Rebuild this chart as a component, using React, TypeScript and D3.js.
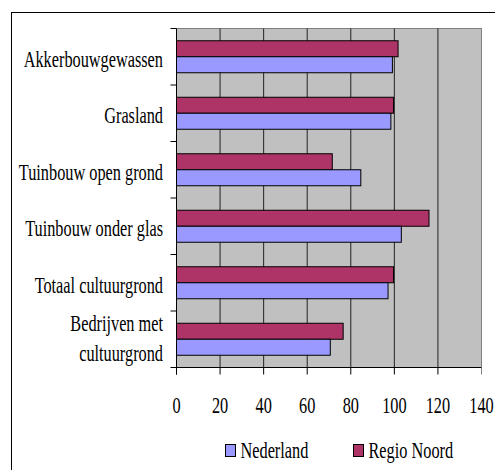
import React from "react";
import * as d3 from "d3";

const categories = [
  "Akkerbouwgewassen",
  "Grasland",
  "Tuinbouw open grond",
  "Tuinbouw onder glas",
  "Totaal cultuurgrond",
  "Bedrijven met cultuurgrond",
];
const categoryLines = [
  ["Akkerbouwgewassen"],
  ["Grasland"],
  ["Tuinbouw open grond"],
  ["Tuinbouw onder glas"],
  ["Totaal cultuurgrond"],
  ["Bedrijven met", "cultuurgrond"],
];
const seriesNames = ["Regio Noord", "Nederland"];
const regioNoord = [101.7, 99.6, 71.5, 115.9, 99.6, 76.5];
const nederland = [99.1, 98.4, 84.6, 103.2, 97.1, 70.6];
const xTicks = [0, 20, 40, 60, 80, 100, 120, 140];
const legendNames = ["Nederland", "Regio Noord"];

const colors: Record<string, string> = {
  "Regio Noord": "#AE3366",
  Nederland: "#9999FF",
};

const font = '"Liberation Serif", "Times New Roman", Times, "DejaVu Serif", serif';
const ts: React.CSSProperties = { fontFamily: font, fontSize: "16.3px" };
const SY = 1.42;

function T({ x, y, anchor, children }: { x: number; y: number; anchor?: string; children: React.ReactNode }) {
  return (
    <text transform={`translate(${x},${y}) scale(1,${SY})`} textAnchor={anchor || "start"} style={ts} fill="#000">
      {children}
    </text>
  );
}

export default function App() {
  const W = 495;
  const H = 470;
  const left = 176.5;
  const right = 481.5;
  const top = 28.5;
  const bottom = 367.5;
  const x = d3.scaleLinear().domain([0, 140]).range([left, right]);
  const y = d3.scaleBand<string>().domain(categories).range([top, bottom]).paddingInner(0).paddingOuter(0);
  const barH = 16;
  const series = [regioNoord, nederland];

  return (
    <svg width={W} height={H} style={{ position: "absolute", left: 0, top: 0 }}>
      <rect x={0} y={0} width={W} height={H} fill="#fff" />
      <rect x={11.5} y={12.5} width={W + 10} height={H + 10} fill="none" stroke="#000" strokeWidth={1} />
      <rect x={left} y={top} width={right - left} height={bottom - top} fill="#C0C0C0" stroke="#808080" strokeWidth={1} />
      {xTicks.slice(1).map((t) => (
        <line key={"g" + t} x1={x(t)} x2={x(t)} y1={top} y2={bottom} stroke={t === 140 ? "#808080" : "#222"} strokeWidth={1} />
      ))}
      {categories.map((c, i) => {
        const band = y(c)!;
        const bw = y.bandwidth();
        const y0 = band + (bw - barH * 2) / 2;
        return (
          <g key={c}>
            {series.map((s, j) => (
              <rect
                key={j}
                x={x(0)}
                y={y0 + j * barH}
                width={x(s[i]) - x(0)}
                height={barH}
                fill={colors[seriesNames[j]]}
                stroke="#000"
                strokeWidth={1}
              />
            ))}
          </g>
        );
      })}
      <line x1={left} x2={left} y1={top} y2={bottom + 7} stroke="#000" />
      <line x1={left - 6} x2={right} y1={bottom} y2={bottom} stroke="#000" />
      {categories.map((c) => (
        <line key={"t" + c} x1={left - 6} x2={left} y1={y(c)!} y2={y(c)!} stroke="#000" />
      ))}
      {xTicks.map((t) => (
        <line key={"xt" + t} x1={x(t)} x2={x(t)} y1={bottom} y2={bottom + 7} stroke={t === 140 ? "#808080" : "#000"} />
      ))}
      {xTicks.map((t) => (
        <T key={"xl" + t} x={x(t)} y={413.3} anchor="middle">
          {t}
        </T>
      ))}
      {categories.map((c, i) => {
        const lines = categoryLines[i];
        const cy = y(c)! + y.bandwidth() / 2;
        const spacing = 30;
        const startBase = lines.length === 1 ? cy + 10 : cy + 7 - ((lines.length - 1) * spacing) / 2;
        return (
          <g key={"cl" + c}>
            {lines.map((l, k) => (
              <T key={k} x={163} y={startBase + k * spacing} anchor="end">
                {l}
              </T>
            ))}
          </g>
        );
      })}
      {legendNames.map((n, i) => {
        const lx = i === 0 ? 225.5 : 353.5;
        return (
          <g key={n}>
            <rect x={lx} y={444.5} width={10} height={12} fill={colors[n]} stroke="#000" />
            <T x={lx + 15} y={458.3}>
              {n}
            </T>
          </g>
        );
      })}
    </svg>
  );
}
